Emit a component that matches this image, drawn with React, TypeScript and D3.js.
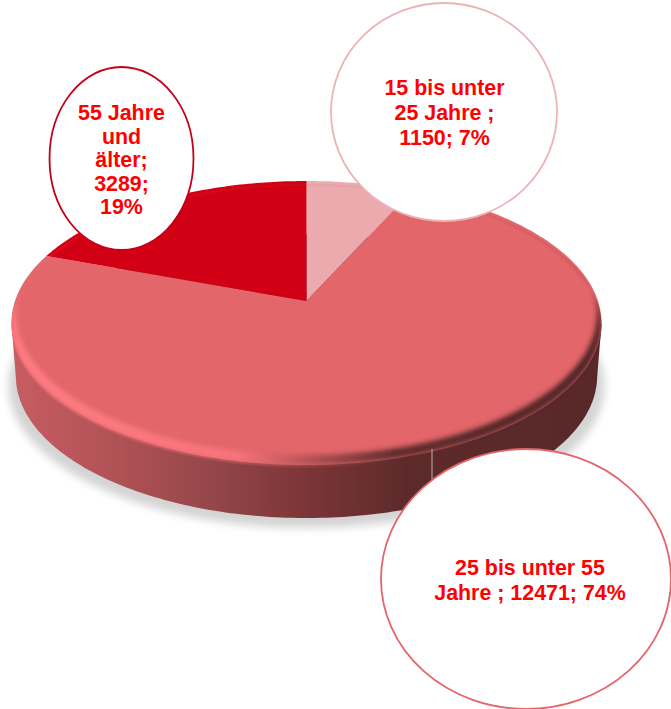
import React from "react";
import * as d3 from "d3";

const categories = ["15 bis unter 25 Jahre", "25 bis unter 55 Jahre", "55 Jahre und älter"];
const values = [1150, 12471, 3289];
const sliceColors = ["#ebaaae", "#e2666a", "#d20014"];
const strokeColors = ["#eeb2b6", "#e2666a", "#c50019"];
const labelLines = [
  ["15 bis unter", "25 Jahre ;", "1150; 7%"],
  ["25 bis unter 55", "Jahre ; 12471; 74%"],
  ["55 Jahre", "und", "älter;", "3289;", "19%"],
];
const W = 671, H = 709;

// Perspective view of the disc: the apex sits above the ellipse centre
const X0 = 306.5, Y0 = 301, A = 291.5, B = 138.6, K = -0.155;
const project = (a: number, dy = 0, s = 1): [number, number] => {
  const u = Math.sin(a), v = -Math.cos(a);
  const d = 1 + K * v;
  return [X0 + (s * A * u) / d, Y0 + (B * v) / d + dy];
};
const line = d3.line<[number, number]>().x((p) => p[0]).y((p) => p[1]);
const arcPts = (a0: number, a1: number, dy = 0, s = 1) => {
  const n = Math.max(8, Math.ceil((a1 - a0) * 60));
  return d3.range(n + 1).map((i) => project(a0 + ((a1 - a0) * i) / n, dy, s));
};
const TAU = Math.PI * 2;
const DEPTH = 53;
const arcs = d3.pie<number>().sort(null)(values);
const apex: [number, number] = [X0, Y0];
const ring = line(arcPts(0, TAU))! + "Z";
const softRing = line(arcPts(0, TAU, 3))! + "Z";
const bottomRing = line(arcPts(0, TAU, DEPTH, 0.985))! + "Z";
const innerRing = line(arcPts(0, TAU, -10, 0.985))! + "Z";
const ringPts = arcPts(0, TAU);
const leftPt = ringPts.reduce((m, p) => (p[0] < m[0] ? p : m));
const rightPt = ringPts.reduce((m, p) => (p[0] > m[0] ? p : m));
const bottomPts = arcPts(0, TAU, DEPTH, 0.985);
const bl = bottomPts.reduce((m, p) => (p[0] < m[0] ? p : m));
const br = bottomPts.reduce((m, p) => (p[0] > m[0] ? p : m));
const bridge = line([leftPt, rightPt, br, bl])! + "Z";

const bubbles = [
  { i: 0, cx: 444, cy: 112, rx: 113, ry: 109, tx: 444.5, ty: 95 },
  { i: 1, cx: 526, cy: 579, rx: 145, ry: 130, tx: 530, ty: 574.5 },
  { i: 2, cx: 121.5, cy: 158.5, rx: 72, ry: 91.5, tx: 121.5, ty: 120 },
];

export default function App() {
  return (
    <svg width={W} height={H} viewBox={`0 0 ${W} ${H}`} style={{ position: "absolute", left: 0, top: 0 }}>
      <defs>
        <linearGradient id="side" gradientUnits="userSpaceOnUse" x1="12" y1="0" x2="601" y2="0">
          <stop offset="0" stopColor="#c75d63" />
          <stop offset="0.2" stopColor="#ad5054" />
          <stop offset="0.33" stopColor="#96474a" />
          <stop offset="0.5" stopColor="#7c3538" />
          <stop offset="0.67" stopColor="#5d2a2a" />
          <stop offset="1" stopColor="#582828" />
        </linearGradient>
        <linearGradient id="bevel" gradientUnits="userSpaceOnUse" x1="12" y1="0" x2="601" y2="0">
          <stop offset="0" stopColor="#ff7c82" />
          <stop offset="0.38" stopColor="#f8757b" />
          <stop offset="0.5" stopColor="#b65357" />
          <stop offset="0.65" stopColor="#5f2b2c" />
          <stop offset="1" stopColor="#4e2424" />
        </linearGradient>
        <filter id="blurS" x="-10%" y="-10%" width="120%" height="120%">
          <feGaussianBlur stdDeviation="4" />
        </filter>
        <filter id="blurB" x="-5%" y="-5%" width="110%" height="110%">
          <feGaussianBlur stdDeviation="2.6" />
        </filter>
        <clipPath id="topClip">
          <path d={softRing} />
        </clipPath>
      </defs>

      <path d={line(arcPts(0, TAU, DEPTH + 10, 1.01))! + "Z"} fill="#000" opacity={0.17} filter="url(#blurS)" />

      <g fill="url(#side)">
        <path d={bottomRing} />
        <path d={bridge} />
      </g>

      {arcs.map((d, i) => (
        <path
          key={categories[i]}
          d={line([apex, ...arcPts(d.startAngle, d.endAngle)])! + "Z"}
          fill={sliceColors[i]}
        />
      ))}

      <g clipPath="url(#topClip)">
        <path d={ring + innerRing} fillRule="evenodd" fill="url(#bevel)" filter="url(#blurB)" />
      </g>

      <line x1={432} x2={432} y1={449} y2={482} stroke="#b4b4b4" strokeWidth={1} />

      {bubbles.map((b) => (
        <g key={b.i}>
          <ellipse cx={b.cx} cy={b.cy} rx={b.rx} ry={b.ry} fill="#fff" stroke={strokeColors[b.i]} strokeWidth={1.8} />
          <text
            textAnchor="middle"
            fontFamily="'Liberation Sans', Arial, sans-serif"
            fontWeight="bold"
            fontSize={21.4}
            fill="#ff0000"
          >
            {labelLines[b.i].map((t, j) => (
              <tspan key={j} x={b.tx} y={b.ty + j * (b.i === 2 ? 23.5 : 25)}>
                {t}
              </tspan>
            ))}
          </text>
        </g>
      ))}
    </svg>
  );
}
